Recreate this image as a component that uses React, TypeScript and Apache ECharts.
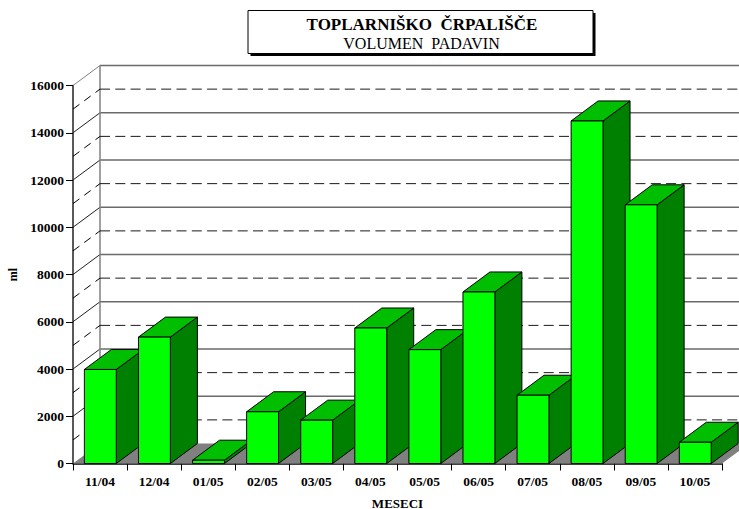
import React, { useEffect, useRef } from "react";
import * as echarts from "echarts";

const categories = ["11/04", "12/04", "01/05", "02/05", "03/05", "04/05", "05/05", "06/05", "07/05", "08/05", "09/05", "10/05"];
const values = [3980, 5350, 140, 2190, 1835, 5735, 4820, 7260, 2890, 14500, 10950, 900];
const majorLevels = [2000, 4000, 6000, 8000, 10000, 12000, 14000, 16000];
const minorLevels = [1000, 3000, 5000, 7000, 9000, 11000, 13000, 15000];

const DX = 27;
const DY = 20;
const SERIF = "'Liberation Serif', 'Times New Roman', serif";

export default function App() {
  const ref = useRef<HTMLDivElement>(null);
  useEffect(() => {
    document.body.style.margin = "0";
    const chart = echarts.init(ref.current!, undefined, { renderer: "svg" });

    const floorItem = (params: any, api: any) => {
      const b = api.size([1, 0])[0];
      const l = api.coord([0, 0]);
      const r = api.coord([categories.length - 1, 0]);
      const x0 = l[0] - b / 2;
      const x1 = r[0] + b / 2;
      const y = l[1];
      return {
        type: "polygon",
        shape: { points: [[x0, y], [x0 + DX, y - DY], [x1 + DX, y - DY], [x1, y]] },
        style: { fill: "#808080", stroke: "none" },
      };
    };

    const wallItem = (dashed: boolean) => (params: any, api: any) => {
      const b = api.size([1, 0])[0];
      const v = api.value(1);
      const l = api.coord([0, v]);
      const r = api.coord([categories.length - 1, v]);
      const x0 = l[0] - b / 2;
      const x1 = r[0] + b / 2;
      const y = l[1];
      const top = v === majorLevels[majorLevels.length - 1];
      const diag = {
        stroke: dashed ? "#000" : top ? "#808080" : "#202020",
        lineWidth: 1,
        lineDash: dashed ? [8, 6] : undefined,
      };
      const horiz = {
        stroke: dashed ? "#1a1a1a" : "#6a6a6a",
        lineWidth: dashed ? 1 : 1.5,
        lineDash: dashed ? [10, 5.3] : undefined,
      };
      const children: any[] = [
        { type: "line", shape: { x1: x0, y1: y, x2: x0 + DX, y2: y - DY }, style: diag },
        { type: "line", shape: { x1: x0 + DX, y1: y - DY, x2: x1 + DX, y2: y - DY }, style: horiz },
      ];
      if (top) {
        const by = api.coord([0, 0])[1];
        children.push({
          type: "line",
          shape: { x1: x0 + DX, y1: y - DY, x2: x0 + DX, y2: by - DY },
          style: { stroke: "#808080", lineWidth: 1.5 },
        });
      }
      return { type: "group", children };
    };

    const barItem = (params: any, api: any) => {
      const b = api.size([1, 0])[0];
      const w = b * 0.59;
      const c = api.coord([api.value(0), api.value(1)]);
      const base = api.coord([api.value(0), 0])[1];
      const x0 = c[0] - w / 2 + 0.3;
      const x1 = c[0] + w / 2 + 0.3;
      const y = c[1];
      const edge = { stroke: "#000", lineWidth: 1, lineJoin: "miter" };
      return {
        type: "group",
        children: [
          {
            type: "polygon",
            shape: { points: [[x1, y], [x1 + DX, y - DY], [x1 + DX, base - DY], [x1, base]] },
            style: { fill: "#008000", ...edge },
          },
          {
            type: "polygon",
            shape: { points: [[x0, y], [x0 + DX, y - DY], [x1 + DX, y - DY], [x1, y]] },
            style: { fill: "#00BE00", ...edge },
          },
          {
            type: "rect",
            shape: { x: x0, y, width: w, height: base - y },
            style: { fill: "#00FF00", ...edge },
          },
        ],
      };
    };

    chart.setOption({
      animation: false,
      backgroundColor: "#fff",
      title: [
        {
          text: "TOPLARNIŠKO\u00A0\u00A0ČRPALIŠČE",
          left: 417,
          top: 10.5,
          textAlign: "center",
          textStyle: { fontFamily: SERIF, fontSize: 17, fontWeight: "bold", color: "#000" },
        },
        {
          text: "VOLUMEN\u00A0\u00A0PADAVIN",
          left: 416.5,
          top: 30,
          textAlign: "center",
          textStyle: { fontFamily: SERIF, fontSize: 16, fontWeight: "normal", color: "#000" },
        },
      ],
      graphic: [
        { type: "rect", z: 0, shape: { x: 250.5, y: 13, width: 345, height: 43 }, style: { fill: "#000" } },
        { type: "rect", z: 1, shape: { x: 248, y: 10.5, width: 345, height: 43 }, style: { fill: "#fff", stroke: "#000", lineWidth: 1 } },
      ],
      grid: { left: 73, top: 85.5, width: 649, height: 378, containLabel: false, outerBoundsMode: "none" },
      xAxis: {
        type: "category",
        data: categories,
        boundaryGap: true,
        name: "MESECI",
        nameLocation: "middle",
        nameGap: 33,
        nameTextStyle: { fontFamily: SERIF, fontSize: 13, fontWeight: "bold", color: "#000" },
        axisLine: { lineStyle: { color: "#000", width: 1.5 } },
        axisTick: { show: true, length: 7, alignWithLabel: false, lineStyle: { color: "#000" } },
        axisLabel: { interval: 0, margin: 11, fontFamily: SERIF, fontSize: 13.5, fontWeight: "bold", color: "#000" },
        splitLine: { show: false },
      },
      yAxis: {
        type: "value",
        min: 0,
        max: 16000,
        interval: 2000,
        name: "ml",
        nameLocation: "middle",
        nameGap: 53,
        nameTextStyle: { fontFamily: SERIF, fontSize: 12, fontWeight: "bold", color: "#000" },
        axisLine: { show: true, lineStyle: { color: "#222", width: 1.5 } },
        axisTick: { show: true, length: 7, lineStyle: { color: "#000" } },
        axisLabel: { margin: 9, fontFamily: SERIF, fontSize: 13.5, fontWeight: "bold", color: "#000", formatter: (v: number) => String(v) },
        splitLine: { show: false },
      },
      series: [
        { type: "custom", z: 1, clip: false, renderItem: floorItem, data: [[0, 0]], silent: true },
        { type: "custom", z: 2, clip: false, renderItem: wallItem(false), data: majorLevels.map((v) => [0, v]), silent: true },
        { type: "custom", z: 2, clip: false, renderItem: wallItem(true), data: minorLevels.map((v) => [0, v]), silent: true },
        { type: "custom", z: 3, clip: false, renderItem: barItem, data: values.map((v, i) => [i, v]), silent: true },
      ],
    });
    return () => chart.dispose();
  }, []);
  return <div ref={ref} style={{ width: 739, height: 509 }} />;
}
